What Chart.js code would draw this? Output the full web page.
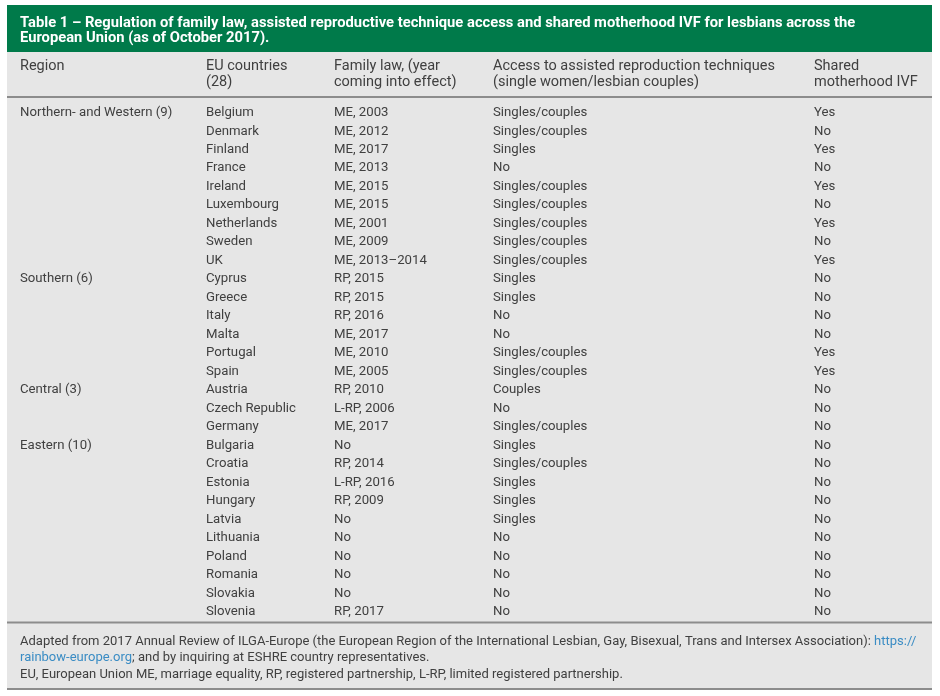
<!DOCTYPE html>
<html>
<head>
<meta charset="utf-8">
<script src="https://cdn.jsdelivr.net/npm/chart.js@4.4.0/dist/chart.umd.min.js"></script>
<style>
  html, body { margin: 0; padding: 0; background: #ffffff; }
  #wrap { position: relative; width: 940px; height: 696px; }
</style>
</head>
<body>
<div id="wrap"><canvas id="tableChart"></canvas></div>
<script>
/* Table 1 drawn on a Chart.js canvas: rows come from a category scale */

const TITLE_LINES = [
  'Table 1 \u2013 Regulation of family law, assisted reproductive technique access and shared motherhood IVF for lesbians across the',
  'European Union (as of October 2017).',
];

const COLUMN_HEADERS = [
  ['Region'],
  ['EU countries', '(28)'],
  ['Family law, (year', 'coming into effect)'],
  ['Access to assisted reproduction techniques', '(single women/lesbian couples)'],
  ['Shared', 'motherhood IVF'],
];

const regionNames  = ['Northern- and Western (9)', 'Southern (6)', 'Central (3)', 'Eastern (10)'];
const regionStarts = ['Belgium', 'Cyprus', 'Austria', 'Bulgaria'];

const countries = [
  'Belgium', 'Denmark', 'Finland', 'France', 'Ireland', 'Luxembourg', 'Netherlands', 'Sweden', 'UK',
  'Cyprus', 'Greece', 'Italy', 'Malta', 'Portugal', 'Spain',
  'Austria', 'Czech Republic', 'Germany',
  'Bulgaria', 'Croatia', 'Estonia', 'Hungary', 'Latvia', 'Lithuania', 'Poland', 'Romania', 'Slovakia', 'Slovenia',
];

const familyLaw = [
  'ME, 2003', 'ME, 2012', 'ME, 2017', 'ME, 2013', 'ME, 2015', 'ME, 2015', 'ME, 2001', 'ME, 2009', 'ME, 2013\u20132014',
  'RP, 2015', 'RP, 2015', 'RP, 2016', 'ME, 2017', 'ME, 2010', 'ME, 2005',
  'RP, 2010', 'L-RP, 2006', 'ME, 2017',
  'No', 'RP, 2014', 'L-RP, 2016', 'RP, 2009', 'No', 'No', 'No', 'No', 'No', 'RP, 2017',
];

const artAccess = [
  'Singles/couples', 'Singles/couples', 'Singles', 'No', 'Singles/couples', 'Singles/couples', 'Singles/couples', 'Singles/couples', 'Singles/couples',
  'Singles', 'Singles', 'No', 'No', 'Singles/couples', 'Singles/couples',
  'Couples', 'No', 'Singles/couples',
  'Singles', 'Singles/couples', 'Singles', 'Singles', 'Singles', 'No', 'No', 'No', 'No', 'No',
];

const sharedIVF = [
  'Yes', 'No', 'Yes', 'No', 'Yes', 'No', 'Yes', 'No', 'Yes',
  'No', 'No', 'No', 'No', 'Yes', 'Yes',
  'No', 'No', 'No',
  'No', 'No', 'No', 'No', 'No', 'No', 'No', 'No', 'No', 'No',
];

// footer: each line is a list of [text, isLink] runs
const FOOTER_LINES = [
  [['Adapted from 2017 Annual Review of ILGA-Europe (the European Region of the International Lesbian, Gay, Bisexual, Trans and Intersex Association): ', false], ['https://', true]],
  [['rainbow-europe.org', true], ['; and by inquiring at ESHRE country representatives.', false]],
  [['EU, European Union ME, marriage equality, RP, registered partnership, L-RP, limited registered partnership.', false]],
];

const COLORS = {
  green:  '#007a4a',
  panel:  '#e6e6e6',
  text:   '#404040',
  rule:   '#8c8c8c',
  link:   '#3a8cc4',
  title:  '#ffffff',
};

const FONT = "Roboto, 'Noto Sans', sans-serif";
const COL_X = [20, 206, 334, 493, 814];   // left edge of each column, in x-scale units (px)
const PANEL = { left: 7, right: 932, top: 5, titleBottom: 52, bottom: 690 };
const TEXT_NUDGE = 1.5;                   // optical centring of 'middle' baseline

const tablePlugin = {
  id: 'tableDraw',
  beforeDraw(chart) {
    const { ctx, chartArea, scales } = chart;
    const x = scales.x, y = scales.y;
    const rowH = y.getPixelForValue(1) - y.getPixelForValue(0);
    const left = x.getPixelForValue(PANEL.left), right = x.getPixelForValue(PANEL.right);

    ctx.save();
    // panel + title bar
    ctx.fillStyle = COLORS.panel;
    ctx.fillRect(left, PANEL.titleBottom, right - left, PANEL.bottom - PANEL.titleBottom);
    ctx.fillStyle = COLORS.green;
    ctx.fillRect(left, PANEL.top, right - left, PANEL.titleBottom - PANEL.top);

    ctx.textBaseline = 'middle';
    ctx.textAlign = 'left';

    ctx.fillStyle = COLORS.title;
    ctx.font = `bold 14.75px ${FONT}`;
    TITLE_LINES.forEach((t, i) => ctx.fillText(t, x.getPixelForValue(COL_X[0]), 21.5 + TEXT_NUDGE + i * 15.5));

    // column headers
    ctx.font = `14.5px ${FONT}`;
    ctx.fillStyle = COLORS.text;
    const headTop = chartArea.top - rowH * 2.0;
    COLUMN_HEADERS.forEach((lines, c) => {
      lines.forEach((t, i) => ctx.fillText(t, x.getPixelForValue(COL_X[c]), headTop + TEXT_NUDGE + i * 15.5));
    });

    // rules
    ctx.fillStyle = COLORS.rule;
    ctx.fillRect(left, chartArea.top - 6, right - left, 2);
    ctx.fillRect(left, chartArea.bottom + 2, right - left, 2);
    ctx.fillRect(left, PANEL.bottom - 2, right - left, 2);

    // body rows
    ctx.font = `13.2px ${FONT}`;
    ctx.fillStyle = COLORS.text;
    countries.forEach((name, r) => {
      const py = y.getPixelForValue(r) + TEXT_NUDGE;
      const g = regionStarts.indexOf(name);
      if (g >= 0) ctx.fillText(regionNames[g], x.getPixelForValue(COL_X[0]), py);
      ctx.fillText(name, x.getPixelForValue(COL_X[1]), py);
      ctx.fillText(familyLaw[r], x.getPixelForValue(COL_X[2]), py);
      ctx.fillText(artAccess[r], x.getPixelForValue(COL_X[3]), py);
      ctx.fillText(sharedIVF[r], x.getPixelForValue(COL_X[4]), py);
    });

    // footer
    ctx.font = `13px ${FONT}`;
    const footTop = chartArea.bottom + 20.5;
    FOOTER_LINES.forEach((runs, i) => {
      let px = x.getPixelForValue(COL_X[0]);
      runs.forEach(([t, isLink]) => {
        ctx.fillStyle = isLink ? COLORS.link : COLORS.text;
        ctx.fillText(t, px, footTop + TEXT_NUDGE + i * 16.5);
        px += ctx.measureText(t).width;
      });
    });
    ctx.restore();
  },
};

new Chart(document.getElementById('tableChart'), {
  type: 'scatter',
  data: { labels: countries, datasets: [] },
  options: {
    responsive: true,
    maintainAspectRatio: false,
    animation: false,
    events: [],
    layout: { padding: { top: 102, bottom: 76.5, left: 0, right: 0 } },
    plugins: { legend: { display: false }, tooltip: { enabled: false } },
    scales: {
      x: { type: 'linear', min: 0, max: 940, display: false },
      y: { type: 'category', labels: countries, offset: true, display: false, grid: { display: false } },
    },
  },
  plugins: [tablePlugin],
});
</script>
</body>
</html>
